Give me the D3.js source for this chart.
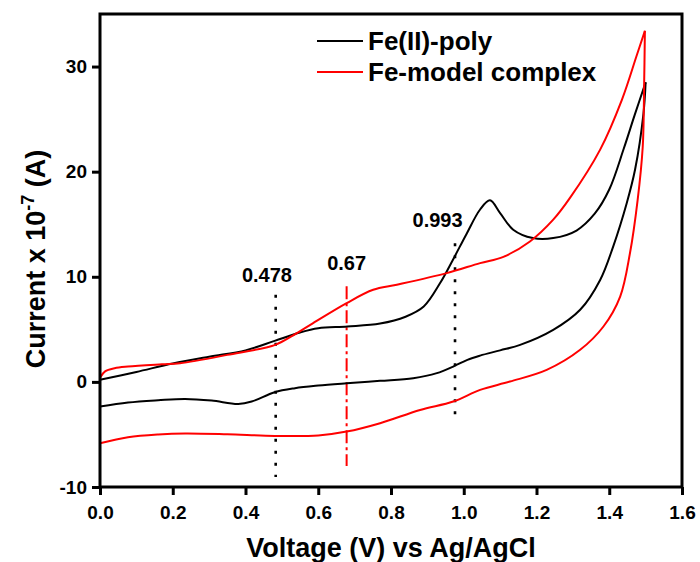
<html>
<head>
<meta charset="utf-8">
<script src="https://cdnjs.cloudflare.com/ajax/libs/d3/7.8.5/d3.min.js"></script>
<style>
  body { margin: 0; background: #fff; }
  text { font-family: "Liberation Sans", Arial, sans-serif; font-weight: bold; }
</style>
</head>
<body>
<div id="chart"></div>
<script>
// Fe(II)-poly, forward scan (0 -> 1.5 V)
var blackFwdV = [0, 0.1, 0.2, 0.3, 0.4, 0.48, 0.55, 0.6, 0.68, 0.77, 0.84, 0.89, 0.935, 0.97, 1.008, 1.045, 1.072, 1.1, 1.136, 1.19, 1.246, 1.31, 1.36, 1.4, 1.44, 1.47, 1.5];
var blackFwdI = [0.2, 0.95, 1.75, 2.4, 3.0, 3.9, 4.7, 5.1, 5.27, 5.55, 6.2, 7.17, 9.4, 11.6, 14.1, 16.4, 17.27, 16.06, 14.48, 13.68, 13.68, 14.4, 16.0, 18.3, 22.2, 25.4, 28.5];
// Fe(II)-poly, reverse scan (listed by rising voltage)
var blackRevV = [0, 0.077, 0.16, 0.234, 0.307, 0.38, 0.417, 0.48, 0.536, 0.6, 0.678, 0.77, 0.861, 0.926, 0.971, 1.01, 1.045, 1.1, 1.155, 1.246, 1.32, 1.375, 1.411, 1.448, 1.471, 1.494, 1.5];
var blackRevI = [-2.35, -1.97, -1.75, -1.62, -1.78, -2.1, -1.87, -0.98, -0.6, -0.35, -0.13, 0.1, 0.35, 0.83, 1.46, 2.1, 2.5, 3.0, 3.52, 4.95, 6.86, 9.7, 12.9, 17.0, 20.2, 25.5, 28.5];
// Fe-model complex, forward scan
var redFwdV = [0, 0.014, 0.04, 0.077, 0.17, 0.22, 0.35, 0.48, 0.53, 0.586, 0.678, 0.751, 0.816, 0.953, 1.045, 1.109, 1.182, 1.246, 1.292, 1.375, 1.435, 1.475, 1.498];
var redFwdI = [0.4, 1.0, 1.3, 1.46, 1.68, 1.78, 2.57, 3.5, 4.4, 5.59, 7.49, 8.76, 9.24, 10.35, 11.3, 11.9, 13.36, 15.43, 17.5, 22.1, 26.86, 31.0, 33.4];
// Fe-model complex, reverse scan
var redRevV = [0, 0.077, 0.16, 0.234, 0.35, 0.48, 0.6, 0.678, 0.77, 0.88, 0.971, 1.045, 1.127, 1.228, 1.32, 1.384, 1.43, 1.457, 1.478, 1.492, 1.496, 1.498];
var redRevI = [-5.84, -5.27, -5.0, -4.9, -4.98, -5.14, -5.1, -4.73, -3.93, -2.67, -1.87, -0.76, 0.03, 1.14, 3.05, 5.27, 8.12, 12.26, 17.3, 22.35, 28.5, 33.4];

var xTicks = [0, 0.2, 0.4, 0.6, 0.8, 1.0, 1.2, 1.4, 1.6];
var yTicks = [-10, 0, 10, 20, 30];

// peak markers: label, where the line sits, and its vertical span
var markLabels = ["0.478", "0.67", "0.993"];
var markV = [0.483, 0.678, 0.976];
var markTop = [8.3, 9.1, 13.2];
var markBottom = [-9.05, -8.0, -3.8];
var markLabelV = [0.459, 0.678, 0.928];
var markLabelI = [9.5, 10.65, 14.7];

var seriesNames = ["Fe(II)-poly", "Fe-model complex"];
var seriesColors = ["#000000", "#ff0000"];

var W = 700, H = 562;
var margin = {left: 100, right: 18, top: 14, bottom: 75};

var svg = d3.select("#chart").append("svg")
  .attr("width", W).attr("height", H);

var x = d3.scaleLinear().domain([0, 1.6]).range([margin.left, W - margin.right]);
var y = d3.scaleLinear().domain([-10, 35]).range([H - margin.bottom, margin.top]);

var line = d3.line()
  .x(function (d) { return x(d[0]); })
  .y(function (d) { return y(d[1]); })
  .curve(d3.curveCatmullRom.alpha(0.5));

function pairs(a, b) { return a.map(function (v, i) { return [v, b[i]]; }); }

var curves = [
  {pts: pairs(blackFwdV, blackFwdI), c: seriesColors[0]},
  {pts: pairs(blackRevV, blackRevI), c: seriesColors[0]},
  {pts: pairs(redFwdV, redFwdI), c: seriesColors[1]},
  {pts: pairs(redRevV, redRevI), c: seriesColors[1]}
];

// annotation lines
var dashes = ["3,9", "13,4,3,4", "3,9"];
var markColors = ["#000", "#ff0000", "#000"];
markV.forEach(function (v, i) {
  svg.append("line")
    .attr("x1", x(v)).attr("x2", x(v))
    .attr("y1", y(markTop[i])).attr("y2", y(markBottom[i]))
    .style("stroke", markColors[i])
    .style("stroke-width", i == 1 ? 2 : 2.6)
    .style("stroke-dasharray", dashes[i]);
  svg.append("text")
    .attr("x", x(markLabelV[i])).attr("y", y(markLabelI[i]))
    .attr("text-anchor", "middle")
    .style("font-size", "20px")
    .text(markLabels[i]);
});

curves.forEach(function (c) {
  svg.append("path")
    .attr("d", line(c.pts))
    .style("fill", "none")
    .style("stroke", c.c)
    .style("stroke-width", 2);
});

// frame
svg.append("rect")
  .attr("x", x(0)).attr("y", y(35))
  .attr("width", x(1.6) - x(0)).attr("height", y(-10) - y(35))
  .style("fill", "none").style("stroke", "#000").style("stroke-width", 3);

var xAxis = svg.append("g")
  .attr("transform", "translate(0," + y(-10) + ")")
  .call(d3.axisBottom(x).tickValues(xTicks).tickSize(8).tickPadding(6)
    .tickFormat(d3.format(".1f")));
var yAxis = svg.append("g")
  .attr("transform", "translate(" + x(0) + ",0)")
  .call(d3.axisLeft(y).tickValues(yTicks).tickSize(8).tickPadding(5)
    .tickFormat(function (d) { return String(d); }));

[xAxis, yAxis].forEach(function (a) {
  a.select(".domain").remove();
  a.selectAll(".tick line").style("stroke", "#000").style("stroke-width", 3);
  a.selectAll(".tick text").style("font-size", "19px").style("fill", "#000")
    .style("font-family", "'Liberation Sans', Arial, sans-serif").style("font-weight", "bold");
});
xAxis.selectAll(".tick text").attr("dy", "0.95em");

// axis titles
svg.append("text")
  .attr("x", (x(0) + x(1.6)) / 2).attr("y", 557)
  .attr("text-anchor", "middle")
  .style("font-size", "27px")
  .text("Voltage (V) vs Ag/AgCl");

var yt = svg.append("text")
  .attr("transform", "translate(45,259) rotate(-90)")
  .attr("text-anchor", "middle")
  .style("font-size", "27px");
yt.append("tspan").text("Current x 10");
yt.append("tspan").attr("dy", -11).style("font-size", "18px").text("-7");
yt.append("tspan").attr("dy", 11).text(" (A)");

// legend
var legendY = [41, 72];
seriesNames.forEach(function (n, i) {
  svg.append("line")
    .attr("x1", 317).attr("x2", 363)
    .attr("y1", legendY[i]).attr("y2", legendY[i])
    .style("stroke", seriesColors[i]).style("stroke-width", 2);
  svg.append("text")
    .attr("x", 368).attr("y", legendY[i] + 9)
    .style("font-size", "26px")
    .text(n);
});
</script>
</body>
</html>
